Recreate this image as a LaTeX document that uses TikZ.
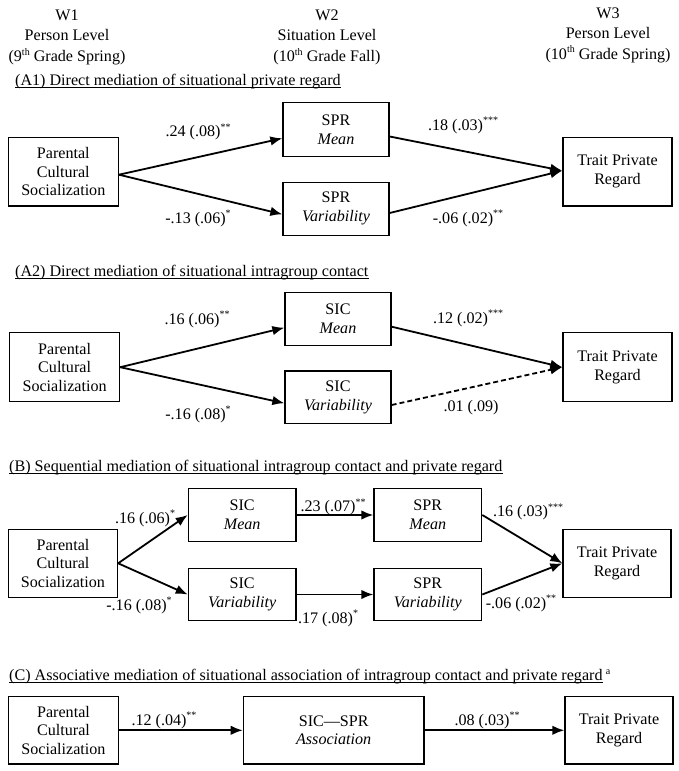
\documentclass[tikz,border=0pt]{standalone}
\usepackage{fontspec}
\setmainfont{Liberation Serif}
\usetikzlibrary{arrows.meta,calc}
\newcommand\fsz{\fontsize{16.1}{18.7}\selectfont}
\newcommand\sig[1]{\raisebox{6.5pt}{\fontsize{10}{10}\selectfont #1}}
\newcommand\sth{\raisebox{6pt}{\fontsize{10}{10}\selectfont th}}
\begin{document}
\begin{tikzpicture}[x=1pt,y=-1pt,
  every node/.style={font=\fsz, inner sep=0pt},
  bx/.style={draw, line width=1.3pt, align=center, inner sep=0pt},
  ar/.style={line width=1.8pt, -{Latex[length=12pt,width=9.5pt]}},
  lb/.style={anchor=base},
  ttl/.style={anchor=base west},
  ul/.style={line width=0.8pt}]
\useasboundingbox (0,0) rectangle (679,771);

% ---------- header ----------
\node[lb] (h1a) at (67,20.3) {W1};
\node[lb] (h1b) at (67,40.3) {Person Level};
\node[lb] (h1c) at (67,61.3) {(9\sth\ Grade Spring)};
\node[lb] (h2a) at (327,20.3) {W2};
\node[lb] (h2b) at (327,40.3) {Situation Level};
\node[lb] (h2c) at (327,61.3) {(10\sth\ Grade Fall)};
\node[lb] (h3a) at (608,18.3) {W3};
\node[lb] (h3b) at (608,38.3) {Person Level};
\node[lb] (h3c) at (608,59) {(10\sth\ Grade Spring)};

% ---------- A1 ----------
\node[ttl] (tA1) at (15,85.5) {(A1) Direct mediation of situational private regard};
\draw[ul] ($(tA1.base west)+(0,2.2)$) -- ($(tA1.base east)+(0,2.2)$);

\node[bx, minimum width=110pt, minimum height=68.7pt] (p1) at (63.3,171.7) {Parental\\Cultural\\Socialization};
\node[bx, minimum width=106pt, minimum height=54pt] (m1) at (336,129.5) {SPR\\\textit{Mean}};
\node[bx, minimum width=106pt, minimum height=53pt] (v1) at (336,208.7) {SPR\\\textit{Variability}};
\node[bx, minimum width=109pt, minimum height=68.7pt] (t1) at (617.5,171.7) {Trait Private\\Regard};

\draw[ar] ($(p1.east)+(0,3)$) -- ($(m1.west)+(0,8.8)$);
\draw[ar] ($(p1.east)+(0,3)$) -- ($(v1.west)+(0,5.6)$);
\draw[ar] ($(m1.east)+(0,7)$) -- ($(t1.west)+(0,-1)$);
\draw[ar] ($(v1.east)+(0,4.3)$) -- ($(t1.west)+(0,-1)$);

\node[lb] (e1) at (198,136.7) {.24 (.08)\sig{**}};
\node[lb] (e2) at (198,223.3) {-.13 (.06)\sig{*}};
\node[lb] (e3) at (463,130) {.18 (.03)\sig{***}};
\node[lb] (e4) at (468,223.3) {-.06 (.02)\sig{**}};

% ---------- A2 ----------
\node[ttl] (tA2) at (15,276.3) {(A2) Direct mediation of situational intragroup contact};
\draw[ul] ($(tA2.base west)+(0,2.2)$) -- ($(tA2.base east)+(0,2.2)$);

\node[bx, minimum width=110pt, minimum height=69pt] (p2) at (64.6,367.2) {Parental\\Cultural\\Socialization};
\node[bx, minimum width=106pt, minimum height=53pt] (m2) at (338,319) {SIC\\\textit{Mean}};
\node[bx, minimum width=106pt, minimum height=52.3pt] (v2) at (338,397.2) {SIC\\\textit{Variability}};
\node[bx, minimum width=109pt, minimum height=69pt] (t2) at (617.5,367.2) {Trait Private\\Regard};

\draw[ar] (p2.east) -- ($(m2.west)+(0,8.7)$);
\draw[ar] (p2.east) -- ($(v2.west)+(0,6)$);
\draw[ar] ($(m2.east)+(0,7.7)$) -- (t2.west);
\draw[ar, dash pattern=on 5pt off 3pt] ($(v2.east)+(0,7.8)$) -- (t2.west);

\node[lb] (f1) at (197,324.3) {.16 (.06)\sig{**}};
\node[lb] (f2) at (198,419) {-.16 (.08)\sig{*}};
\node[lb] (f3) at (468,323.3) {.12 (.02)\sig{***}};
\node[lb] (f4) at (471,411.7) {.01 (.09)};

% ---------- B ----------
\node[ttl] (tB) at (9,471) {(B) Sequential mediation of situational intragroup contact and private regard};
\draw[ul] ($(tB.base west)+(0,2.2)$) -- ($(tB.base east)+(0,2.2)$);

\node[bx, minimum width=109pt, minimum height=68pt] (p3) at (63,563.3) {Parental\\Cultural\\Socialization};
\node[bx, minimum width=107.7pt, minimum height=53.4pt] (sm) at (242.2,515) {SIC\\\textit{Mean}};
\node[bx, minimum width=107.7pt, minimum height=52.4pt] (sv) at (242.2,594.5) {SIC\\\textit{Variability}};
\node[bx, minimum width=107.7pt, minimum height=53.4pt] (rm) at (427.8,515) {SPR\\\textit{Mean}};
\node[bx, minimum width=107.7pt, minimum height=52.4pt] (rv) at (427.8,594.5) {SPR\\\textit{Variability}};
\node[bx, minimum width=108pt, minimum height=68pt] (t3) at (617,563.3) {Trait Private\\Regard};

\draw[ar] (p3.east) -- (sm.west);
\draw[ar] (p3.east) -- (sv.west);
\draw[ar] (sm.east) -- (rm.west);
\draw[ar] (sv.east) -- (rv.west);
\draw[ar] (rm.east) -- (t3.west);
\draw[ar] (rv.east) -- (t3.west);

\node[lb] (g1) at (145,523.3) {.16 (.06)\sig{*}};
\node[lb] (g2) at (139,610) {-.16 (.08)\sig{*}};
\node[lb] (g3) at (333,511.7) {.23 (.07)\sig{**}};
\node[lb] (g4) at (328,623.3) {.17 (.08)\sig{*}};
\node[lb] (g5) at (528,516.7) {.16 (.03)\sig{***}};
\node[lb] (g6) at (521,608.3) {-.06 (.02)\sig{**}};

% ---------- C ----------
\node[ttl] (tC) at (9,680.5) {(C) Associative mediation of situational association of intragroup contact and private regard};
\draw[ul] ($(tC.base west)+(0,2.2)$) -- ($(tC.base east)+(0,2.2)$);
\node[anchor=base west] (tCa) at ($(tC.base east)+(3,-6.5)$) {\fontsize{10}{10}\selectfont a};

\node[bx, minimum width=110pt, minimum height=67.3pt] (p4) at (63.5,730.3) {Parental\\Cultural\\Socialization};
\node[bx, minimum width=180.7pt, minimum height=67.3pt] (a4) at (333.7,730.3) {SIC---SPR\\\textit{Association}};
\node[bx, minimum width=108pt, minimum height=67.3pt] (t4) at (619,730.3) {Trait Private\\Regard};

\draw[ar] (p4.east) -- (a4.west);
\draw[ar] (a4.east) -- (t4.west);

\node[lb] (k1) at (164,725) {.12 (.04)\sig{**}};
\node[lb] (k2) at (487,725) {.08 (.03)\sig{**}};
\end{tikzpicture}
\end{document}
